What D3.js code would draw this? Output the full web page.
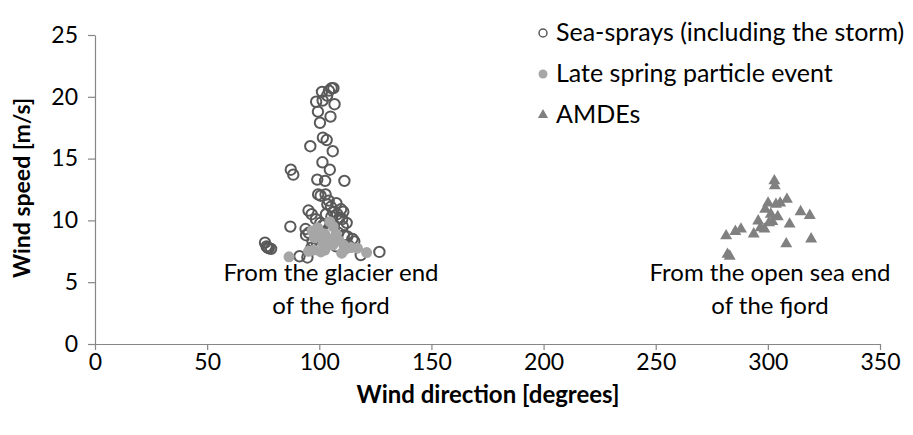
<!DOCTYPE html>
<html>
<head>
<meta charset="utf-8">
<script src="https://cdn.jsdelivr.net/npm/d3@7"></script>
<style>
  body { margin: 0; background: #fff; }
  svg { display: block; }
  text { font-family: Lato, "Open Sans", sans-serif; fill: #000; }
</style>
</head>
<body>
<svg id="chart" width="913" height="435"></svg>
<script>
// Axis ticks
const xTicks = [0, 50, 100, 150, 200, 250, 300, 350];
const yTicks = [0, 5, 10, 15, 20, 25];

// Series: [wind direction (degrees), wind speed (m/s)]
const seaSprays = [
  [105.5, 20.7], [104.3, 20.5], [106.3, 20.7], [101.2, 20.4], [103.5, 20.1],
  [98.6, 19.6], [101.5, 19.7], [106.8, 19.4], [99.4, 18.8], [105.0, 18.4],
  [100.3, 17.9], [101.6, 16.7], [103.3, 16.5], [96.0, 16.0], [106.0, 15.6],
  [101.4, 14.7], [104.7, 14.1], [87.3, 14.1], [88.4, 13.7], [99.1, 13.3],
  [102.6, 13.2], [111.2, 13.2], [99.5, 12.1], [100.6, 12.0], [102.8, 12.1],
  [104.2, 11.6], [103.6, 11.3], [107.6, 11.4], [105.2, 11.1], [109.7, 10.9],
  [110.7, 10.7], [95.2, 10.8], [96.6, 10.5], [98.5, 10.1], [106.3, 10.7],
  [108.0, 10.5], [105.4, 10.3], [112.2, 9.8], [110.2, 10.1], [87.1, 9.5],
  [93.9, 9.3], [95.3, 9.0], [94.1, 8.8], [101.5, 9.6], [104.5, 9.2],
  [110.5, 9.5], [112.5, 8.7], [114.8, 8.5], [115.6, 8.3], [108.5, 9.0],
  [97.0, 8.3], [102.0, 8.5], [75.8, 8.2], [76.5, 7.9], [77.5, 7.75],
  [78.5, 7.7], [77.0, 7.8], [91.2, 7.1], [94.7, 7.0], [96.5, 7.8],
  [99.0, 8.0], [107.5, 7.9], [118.5, 7.2], [126.8, 7.45], [113.0, 8.0],
  [100.5, 9.8], [103.0, 10.5], [106.5, 9.6], [109.0, 10.2], [111.0, 8.8]
];
const lateSpring = [
  [86.5, 7.05], [95.2, 7.5], [97.5, 7.6], [100.7, 7.45], [102.5, 7.6],
  [96.8, 9.15], [99.3, 9.4], [104.7, 9.9], [106.2, 9.5], [102.4, 8.9],
  [100.5, 8.6], [104.5, 8.5], [108.8, 8.35], [110.9, 8.0], [111.5, 7.65],
  [114.2, 7.8], [110.0, 7.35], [117.0, 7.75], [121.1, 7.4], [97.8, 8.6],
  [101.6, 8.1], [106.0, 8.0], [103.8, 8.3], [107.5, 8.9]
];
const amdes = [
  [281.4, 8.75], [282.0, 7.25], [283.0, 7.1], [285.5, 9.1], [288.0, 9.3],
  [293.7, 8.9], [295.7, 9.95], [296.7, 9.4], [298.8, 10.9], [300.1, 11.4],
  [301.3, 10.5], [302.0, 9.9], [302.9, 13.2], [303.1, 12.8], [303.6, 11.3],
  [304.4, 10.3], [305.5, 11.4], [308.5, 11.7], [309.7, 9.7], [308.2, 8.1],
  [314.6, 10.7], [318.7, 10.4], [319.3, 8.5], [298.5, 9.3], [300.5, 9.8]
];

const legendLabels = ["Sea-sprays (including the storm)", "Late spring particle event", "AMDEs"];
const xTitle = "Wind direction [degrees]";
const yTitle = "Wind speed [m/s]";
const glacierNote = ["From the glacier end", "of the fjord"];
const openSeaNote = ["From the open sea end", "of the fjord"];

const AXIS = "#868686";
const DARK = "#595959";
const LIGHT = "#a6a6a6";
const MID = "#808080";

const svg = d3.select("#chart");
const x = d3.scaleLinear().domain([0, 350]).range([95, 880]);
const y = d3.scaleLinear().domain([0, 25]).range([344, 35]);

// Axes
const xAxis = svg.append("g")
  .attr("transform", `translate(0,${y(0)})`)
  .call(d3.axisBottom(x).tickValues(xTicks).tickSize(6).tickSizeOuter(0).tickPadding(4));
const yAxis = svg.append("g")
  .attr("transform", `translate(${x(0)},0)`)
  .call(d3.axisLeft(y).tickValues(yTicks).tickSize(7).tickSizeOuter(0).tickPadding(10));
[xAxis, yAxis].forEach(g => {
  g.select(".domain").attr("stroke", AXIS).attr("stroke-width", 1.2);
  g.selectAll(".tick line").attr("stroke", AXIS).attr("stroke-width", 1.2);
  g.selectAll(".tick text").attr("fill", "#000").style("font-size", "23px")
    .style("font-family", "Lato, sans-serif");
});

// Axis titles
svg.append("text")
  .attr("x", 488).attr("y", 403)
  .attr("text-anchor", "middle")
  .style("font-size", "24px").style("font-weight", "bold")
  .text(xTitle);
svg.append("text")
  .attr("transform", `translate(30,188) rotate(-90)`)
  .attr("text-anchor", "middle")
  .style("font-size", "23px").style("font-weight", "bold")
  .text(yTitle);

// Sea-spray events: open circles
svg.append("g").selectAll("circle")
  .data(seaSprays).join("circle")
  .attr("cx", d => x(d[0])).attr("cy", d => y(d[1]))
  .attr("r", 5.2)
  .attr("fill", "none").attr("stroke", DARK).attr("stroke-width", 2);

// Late spring particle event: filled light circles
svg.append("g").selectAll("circle")
  .data(lateSpring).join("circle")
  .attr("cx", d => x(d[0])).attr("cy", d => y(d[1]))
  .attr("r", 5.5)
  .attr("fill", LIGHT);

// AMDEs: triangles
const tri = d3.symbol().type(d3.symbolTriangle).size(62);
svg.append("g").selectAll("path")
  .data(amdes).join("path")
  .attr("transform", d => `translate(${x(d[0])},${y(d[1])})`)
  .attr("d", tri)
  .attr("fill", MID);

// Region notes
function note(lines, cx, top) {
  const t = svg.append("text").attr("text-anchor", "middle").style("font-size", "24px");
  lines.forEach((l, i) => t.append("tspan").attr("x", cx).attr("y", top + i * 33).text(l));
}
note(glacierNote, 331, 281);
note(openSeaNote, 770, 281);

// Legend
const lg = svg.append("g");
const rows = [33, 74, 115];
lg.append("circle").attr("cx", 543).attr("cy", rows[0]).attr("r", 4)
  .attr("fill", "none").attr("stroke", DARK).attr("stroke-width", 1.5);
lg.append("circle").attr("cx", 543).attr("cy", rows[1]).attr("r", 4.5).attr("fill", LIGHT);
lg.append("path").attr("transform", `translate(543,${rows[2]})`)
  .attr("d", d3.symbol().type(d3.symbolTriangle).size(45)).attr("fill", MID);
legendLabels.forEach((l, i) => {
  lg.append("text").attr("x", 556).attr("y", rows[i] + 8)
    .style("font-size", "25px").text(l);
});
</script>
</body>
</html>
